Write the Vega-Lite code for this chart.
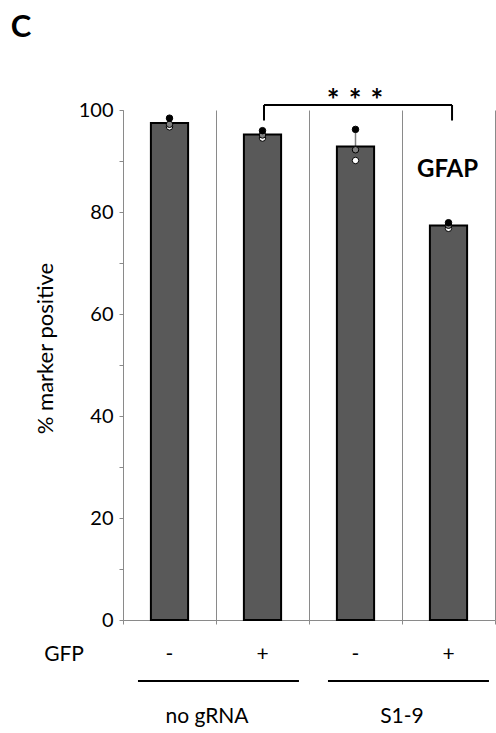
{
  "$schema": "https://vega.github.io/schema/vega-lite/v6.json",
  "width": 372,
  "height": 510,
  "autosize": {"type": "none"},
  "padding": {"left": 123, "top": 110, "right": 1, "bottom": 113},
  "background": "white",
  "config": {
    "font": "Lato",
    "view": {"stroke": null},
    "text": {"color": "black", "fontSize": 21, "align": "center", "baseline": "middle"}
  },
  "datasets": {
    "cells": [
      {"condition": "no gRNA, GFP-", "gfp": "-", "replicate": "r1", "pct": 98.4},
      {"condition": "no gRNA, GFP-", "gfp": "-", "replicate": "r2", "pct": 97.2},
      {"condition": "no gRNA, GFP-", "gfp": "-", "replicate": "r3", "pct": 96.7},
      {"condition": "no gRNA, GFP+", "gfp": "+", "replicate": "r1", "pct": 95.95},
      {"condition": "no gRNA, GFP+", "gfp": "+", "replicate": "r2", "pct": 95.1},
      {"condition": "no gRNA, GFP+", "gfp": "+", "replicate": "r3", "pct": 94.5},
      {"condition": "S1-9, GFP-", "gfp": "-", "replicate": "r1", "pct": 96.2},
      {"condition": "S1-9, GFP-", "gfp": "-", "replicate": "r2", "pct": 92.2},
      {"condition": "S1-9, GFP-", "gfp": "-", "replicate": "r3", "pct": 90.1},
      {"condition": "S1-9, GFP+", "gfp": "+", "replicate": "r1", "pct": 77.9},
      {"condition": "S1-9, GFP+", "gfp": "+", "replicate": "r2", "pct": 77.4},
      {"condition": "S1-9, GFP+", "gfp": "+", "replicate": "r3", "pct": 76.8}
    ],
    "conditions": [
      {"condition": "no gRNA, GFP-", "gfp": "-"},
      {"condition": "no gRNA, GFP+", "gfp": "+"},
      {"condition": "S1-9, GFP-", "gfp": "-"},
      {"condition": "S1-9, GFP+", "gfp": "+"}
    ],
    "one": [{}]
  },
  "resolve": {"scale": {"x": "independent"}, "axis": {"x": "independent"}},
  "layer": [
    {
      "layer": [
        {
          "data": {"name": "cells"},
          "mark": {"type": "errorbar", "extent": "stdev", "color": "#7f7f7f", "thickness": 1.5},
          "encoding": {
            "x": {"field": "condition", "type": "nominal",
                  "scale": {"domain": ["no gRNA, GFP-", "no gRNA, GFP+", "S1-9, GFP-", "S1-9, GFP+"], "paddingInner": 0, "paddingOuter": 0}},
            "y": {"field": "pct", "type": "quantitative", "title": "% marker positive", "scale": {"domain": [0, 100]}}
          }
        },
        {
          "data": {"name": "cells"},
          "mark": {"type": "bar", "fill": "#595959", "stroke": "black", "strokeWidth": 2, "width": {"band": 0.4}},
          "encoding": {
            "x": {"field": "condition", "type": "nominal",
                  "axis": {"tickBand": "extent", "grid": true, "gridColor": "#8a8a8a", "ticks": true, "tickSize": 4,
                           "tickColor": "#8a8a8a", "domainColor": "#8a8a8a", "labels": false, "title": null}},
            "y": {"aggregate": "mean", "field": "pct", "type": "quantitative", "title": "% marker positive",
                  "axis": {"title": "% marker positive", "values": [0, 10, 20, 30, 40, 50, 60, 70, 80, 90, 100],
                           "labelExpr": "datum.value % 20 == 0 ? datum.label : ''",
                           "grid": false, "tickSize": 4, "tickColor": "#8a8a8a", "domainColor": "#8a8a8a",
                           "labelFontSize": 20, "labelColor": "black", "labelPadding": 6,
                           "titleFontSize": 22, "titleFontWeight": "normal", "titleColor": "black",
                           "titleX": -78, "titleY": 238, "titleAngle": -90, "titleAlign": "center", "titleBaseline": "middle"}}
          }
        },
        {
          "data": {"name": "cells"},
          "mark": {"type": "point", "shape": "circle", "filled": true, "size": 42, "stroke": "black", "strokeWidth": 1, "opacity": 1},
          "encoding": {
            "x": {"field": "condition", "type": "nominal"},
            "y": {"field": "pct", "type": "quantitative", "title": "% marker positive"},
            "fill": {"field": "replicate", "type": "nominal",
                     "scale": {"domain": ["r1", "r2", "r3"], "range": ["#000000", "#808080", "#ffffff"]}, "legend": null},
            "order": {"field": "replicate", "sort": "descending"}
          }
        },
        {
          "data": {"name": "conditions"},
          "mark": {"type": "text"},
          "encoding": {
            "x": {"field": "condition", "type": "nominal"},
            "y": {"datum": -6.86, "type": "quantitative", "title": "% marker positive"},
            "text": {"field": "gfp"}
          }
        }
      ]
    },
    {
      "data": {"name": "one"},
      "mark": {"type": "text"},
      "encoding": {
        "x": {"datum": -0.634, "type": "quantitative", "scale": {"domain": [0, 4]}, "axis": null},
        "y": {"datum": -6.86, "type": "quantitative", "title": "% marker positive"},
        "text": {"value": "GFP"}
      }
    },
    {
      "data": {"name": "one"},
      "mark": {"type": "rule", "color": "black", "strokeWidth": 2},
      "encoding": {
        "x": {"datum": 0.161, "type": "quantitative", "scale": {"domain": [0, 4]}, "axis": null},
        "x2": {"datum": 1.892},
        "y": {"datum": -11.96, "type": "quantitative", "title": "% marker positive"}
      }
    },
    {
      "data": {"name": "one"},
      "mark": {"type": "rule", "color": "black", "strokeWidth": 2},
      "encoding": {
        "x": {"datum": 2.204, "type": "quantitative", "scale": {"domain": [0, 4]}, "axis": null},
        "x2": {"datum": 3.935},
        "y": {"datum": -11.96, "type": "quantitative", "title": "% marker positive"}
      }
    },
    {
      "data": {"name": "one"},
      "mark": {"type": "text"},
      "encoding": {
        "x": {"datum": 0.903, "type": "quantitative", "scale": {"domain": [0, 4]}, "axis": null},
        "y": {"datum": -19.0, "type": "quantitative", "title": "% marker positive"},
        "text": {"value": "no gRNA"}
      }
    },
    {
      "data": {"name": "one"},
      "mark": {"type": "text"},
      "encoding": {
        "x": {"datum": 3.0, "type": "quantitative", "scale": {"domain": [0, 4]}, "axis": null},
        "y": {"datum": -19.0, "type": "quantitative", "title": "% marker positive"},
        "text": {"value": "S1-9"}
      }
    },
    {
      "data": {"name": "one"},
      "mark": {"type": "rule", "color": "black", "strokeWidth": 2},
      "encoding": {
        "x": {"datum": 1.516, "type": "quantitative", "scale": {"domain": [0, 4]}, "axis": null},
        "x2": {"datum": 3.538},
        "y": {"datum": 100.98, "type": "quantitative", "title": "% marker positive"}
      }
    },
    {
      "data": {"name": "one"},
      "mark": {"type": "rule", "color": "black", "strokeWidth": 2},
      "encoding": {
        "x": {"datum": 1.516, "type": "quantitative", "scale": {"domain": [0, 4]}, "axis": null},
        "y": {"datum": 100.98, "type": "quantitative", "title": "% marker positive"},
        "y2": {"datum": 97.94}
      }
    },
    {
      "data": {"name": "one"},
      "mark": {"type": "rule", "color": "black", "strokeWidth": 2},
      "encoding": {
        "x": {"datum": 3.538, "type": "quantitative", "scale": {"domain": [0, 4]}, "axis": null},
        "y": {"datum": 100.98, "type": "quantitative", "title": "% marker positive"},
        "y2": {"datum": 97.94}
      }
    },
    {
      "data": {"name": "one"},
      "mark": {"type": "text", "fontWeight": "bold", "fontSize": 30},
      "encoding": {
        "x": {"datum": 2.495, "type": "quantitative", "scale": {"domain": [0, 4]}, "axis": null},
        "y": {"datum": 101.6, "type": "quantitative", "title": "% marker positive"},
        "text": {"value": "*\u00a0\u200a*\u00a0\u200a*"}
      }
    },
    {
      "data": {"name": "one"},
      "mark": {"type": "text", "fontWeight": "bold", "fontSize": 24},
      "encoding": {
        "x": {"datum": 3.49, "type": "quantitative", "scale": {"domain": [0, 4]}, "axis": null},
        "y": {"datum": 88.3, "type": "quantitative", "title": "% marker positive"},
        "text": {"value": "GFAP"}
      }
    },
    {
      "data": {"name": "one"},
      "mark": {"type": "text", "fontWeight": "bold", "fontSize": 31},
      "encoding": {
        "x": {"datum": -1.097, "type": "quantitative", "scale": {"domain": [0, 4]}, "axis": null},
        "y": {"datum": 116.1, "type": "quantitative", "title": "% marker positive"},
        "text": {"value": "C"}
      }
    }
  ]
}
